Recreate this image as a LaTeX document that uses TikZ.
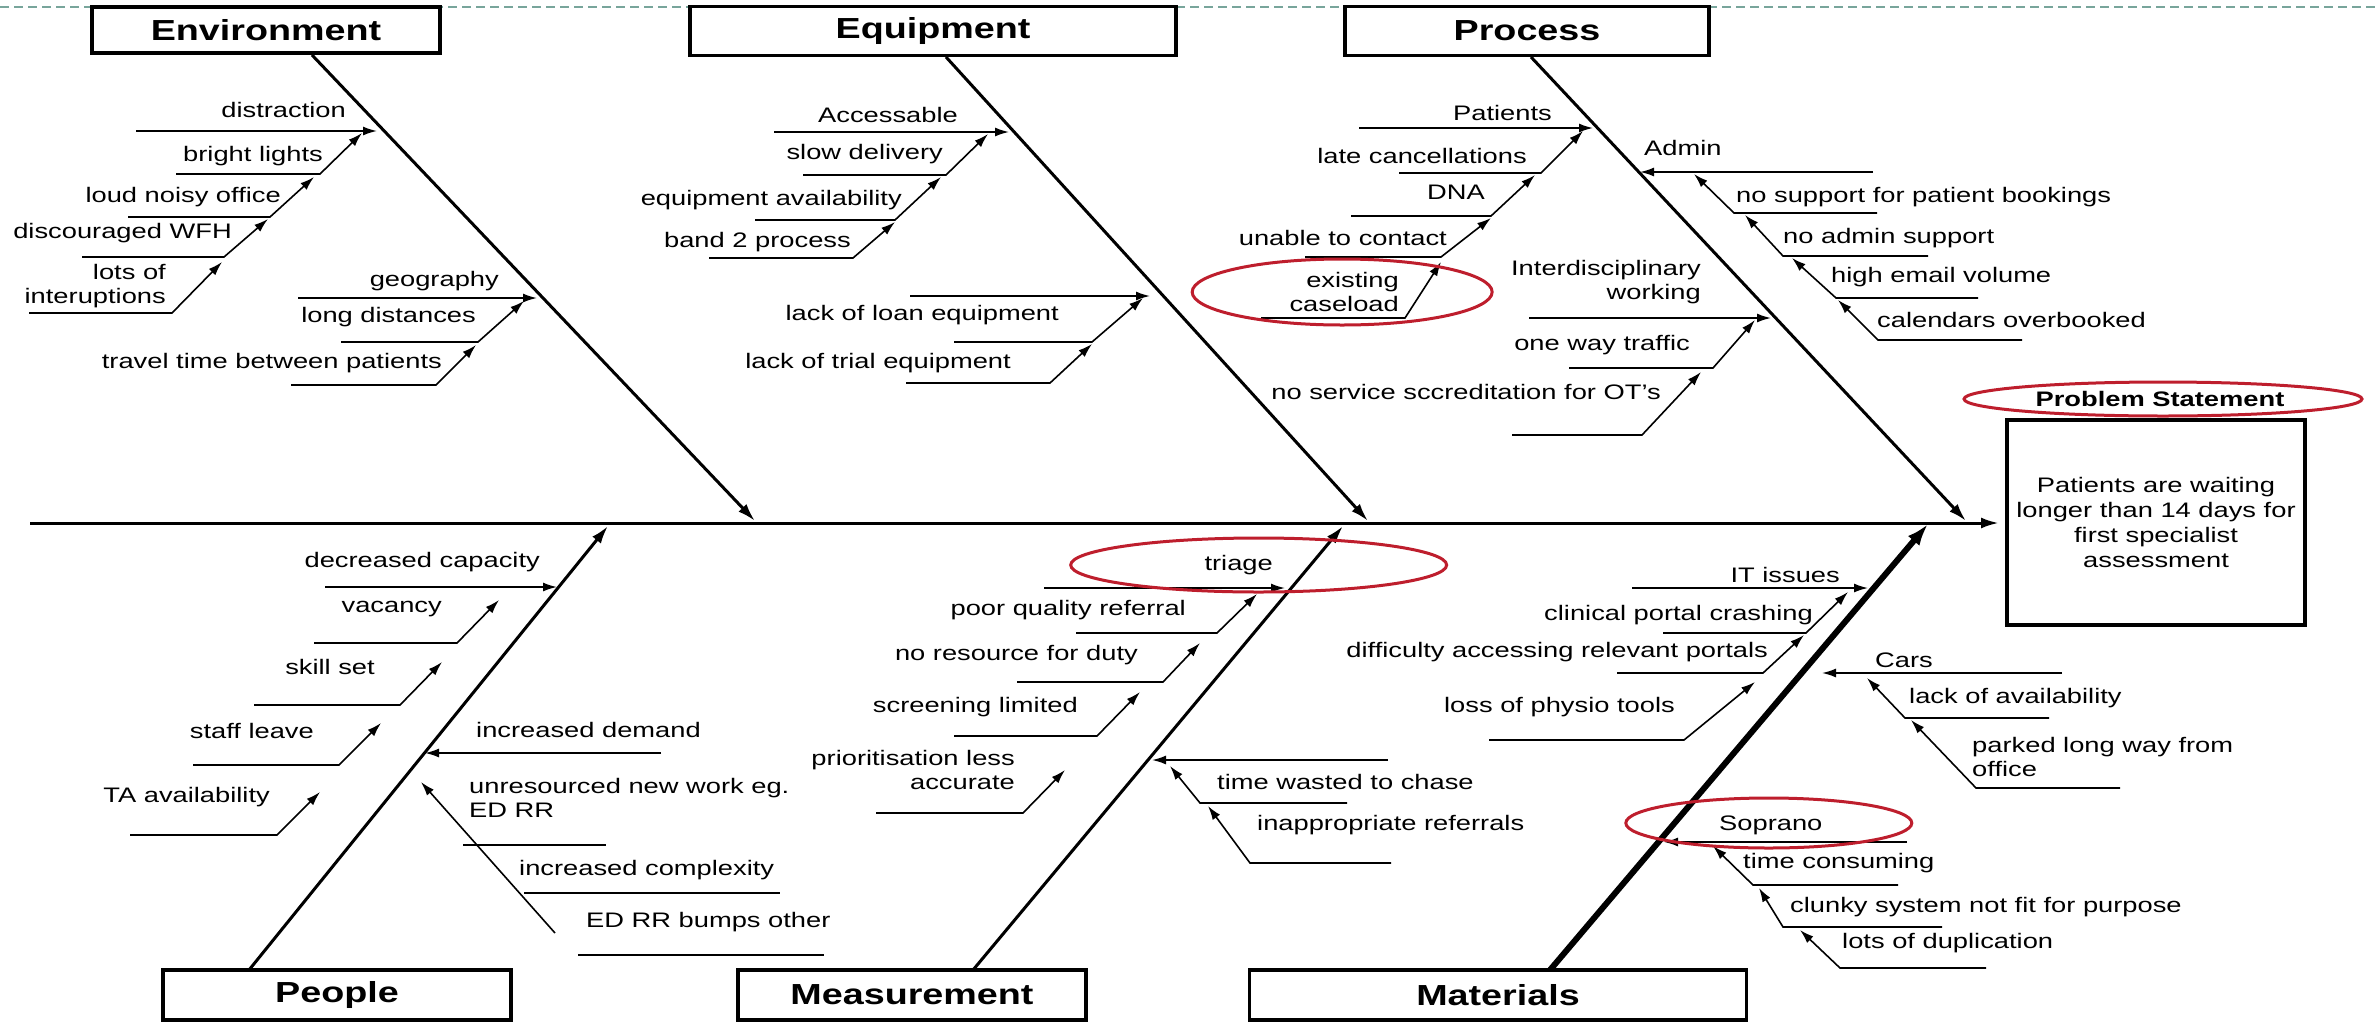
\documentclass[tikz,border=0pt]{standalone}
\usepackage{fontspec}
\setmainfont{Liberation Sans}[FakeStretch=1.3]
\usetikzlibrary{arrows.meta}

\definecolor{ringred}{RGB}{190,30,45}
\definecolor{dashteal}{RGB}{120,165,155}

\tikzset{
  bone/.style={line width=3pt, -{Latex[length=18pt,width=11pt]}},
  twig/.style={line width=1.6pt, -{Latex[length=14pt,width=9pt]}},
  catbox/.style={draw, line width=3.5pt, fill=white, inner sep=0pt,
    font=\fontsize{29}{32}\selectfont\bfseries},
  lbl/.style={inner sep=0pt, font=\fontsize{21}{24}\selectfont},
  lblL/.style={lbl, anchor=east, align=right},
  lblR/.style={lbl, anchor=west, align=left},
  ring/.style={draw=ringred, line width=3pt},
}

\begin{document}
\begin{tikzpicture}[x=1pt,y=-1pt]
\useasboundingbox (0,0) rectangle (2377,1023);
\draw[dashteal, line width=1.5pt, dash pattern=on 9pt off 5pt] (0,7) -- (2377,7);

% category boxes
\node[catbox, minimum width=348pt, minimum height=46pt] (env) at (266,30) {Environment};
\node[catbox, minimum width=486pt, minimum height=49pt] (equip) at (933,31) {Equipment};
\node[catbox, minimum width=364pt, minimum height=49pt] (proc) at (1527,31) {Process};
\node[catbox, minimum width=348pt, minimum height=50pt] (people) at (337,995) {People};
\node[catbox, minimum width=348pt, minimum height=50pt] (meas) at (912,995) {Measurement};
\node[catbox, minimum width=497pt, minimum height=50pt] (mat) at (1498,995) {Materials};

% problem statement
\node[draw, line width=4pt, minimum width=298pt, minimum height=205pt, align=center,
  lbl, font=\fontsize{21}{25}\selectfont] (prob) at (2156,522)
  {Patients are waiting\\longer than 14 days for\\first specialist\\assessment};
\node[lbl, font=\fontsize{21}{24}\selectfont\bfseries] (pstate) at (2160,399) {Problem Statement};
\draw[ring] ([xshift=3pt]pstate.center) ellipse [x radius=199pt, y radius=17pt];

% spine and bones
\coordinate (tail) at (30,523);
\coordinate (head) at (1999,523);
\coordinate (envroot) at (312,55);   \coordinate (envtip) at (755,521);
\coordinate (eqroot) at (946,57);    \coordinate (eqtip) at (1368,521);
\coordinate (procroot) at (1531,57); \coordinate (proctip) at (1966,521);
\coordinate (pplroot) at (249,970);  \coordinate (ppltip) at (608,526);
\coordinate (measroot) at (973,970); \coordinate (meastip) at (1343,526);
\coordinate (matroot) at (1550,970); \coordinate (mattip) at (1928,524);

\draw[bone] (tail) -- (head);
\draw[bone] (envroot) -- (envtip);
\draw[bone] (eqroot) -- (eqtip);
\draw[bone] (procroot) -- (proctip);
\draw[bone] (pplroot) -- (ppltip);
\draw[bone] (measroot) -- (meastip);
\draw[bone, line width=6pt, -{Latex[length=22pt,width=15pt]}] (matroot) -- (mattip);

% causes on the left of their bone
\foreach \n/\xa/\xb/\y/\xt/\yt/\lx/\ly/\txt in {
  distr/136/360/131/377/131/346/110/distraction,
  bright/176/320/174/362/133/323/156/bright lights,
  loud/128/270/217/314/177/281/197/loud noisy office,
  wfh/82/224/257/268/219/232/233/discouraged WFH,
  interupt/29/172/313/222/262/166/286/{lots of\\interuptions},
  geog/298/520/298/537/298/499/281/geography,
  longd/341/478/342/524/301/476/317/long distances,
  travel/291/436/385/476/345/442/363/travel time between patients,
  access/774/990/132/1009/132/958/115/Accessable,
  slowd/803/946/175/988/134/943/154/slow delivery,
  avail/755/895/220/941/177/902/200/equipment availability,
  band/709/853/258/895/222/851/242/band 2 process,
  loan/954/1092/342/1143/298/1059/315/lack of loan equipment,
  trial/906/1050/383/1092/344/1011/363/lack of trial equipment,
  pats/1359/1575/128/1593/128/1552/113/Patients,
  late/1399/1541/173/1583/131/1527/156/late cancellations,
  dna/1351/1491/216/1535/175/1485/192/DNA,
  contact/1305/1441/257/1491/218/1447/238/unable to contact,
  caseload/1261/1405/318/1441/262/1399/292/{existing\\caseload},
  interdis/1529/1750/318/1771/318/1701/282/{Interdisciplinary\\working},
  oneway/1569/1713/368/1755/320/1690/345/one way traffic,
  nosvc/1512/1642/435/1701/372/1661/392/no service sccreditation for OT's,
  decr/325/540/587/557/587/540/562/decreased capacity,
  vac/314/457/643/499/600/442/609/vacancy,
  skill/254/400/705/442/662/375/667/skill set,
  leave/193/339/765/381/723/314/731/staff leave,
  ta/130/277/835/320/792/270/797/TA availability,
  triage/1044/1265/588/1285/588/1273/565/triage,
  poorq/1076/1217/633/1257/594/1186/610/poor quality referral,
  duty/1017/1163/682/1200/643/1138/655/no resource for duty,
  screen/954/1097/736/1140/692/1078/707/screening limited,
  prior/876/1023/813/1065/770/1015/770/{prioritisation less\\accurate},
  itiss/1632/1850/588/1868/588/1840/575/IT issues,
  portal/1663/1806/633/1848/592/1813/615/clinical portal crashing,
  relev/1617/1763/673/1804/635/1768/652/difficulty accessing relevant portals,
  physio/1489/1684/740/1755/682/1675/707/loss of physio tools}{
  \path (\xa,\y) coordinate (\n-a) (\xb,\y) coordinate (\n-b) (\xt,\yt) coordinate (\n-t);
  \draw[twig] (\n-a) -- (\n-b) -- (\n-t);
  \node[lblL] (\n) at (\lx,\ly) {\txt};
}

% causes on the right of their bone
\foreach \n/\xa/\xb/\y/\xt/\yt/\lx/\ly/\txt in {
  admin/1873/1660/172/1640/172/1644/148/Admin,
  nosup/1877/1734/213/1694/174/1736/197/no support for patient bookings,
  noadm/1928/1783/256/1745/215/1783/238/no admin support,
  email/1978/1836/298/1792/258/1831/277/high email volume,
  calend/2022/1878/340/1838/300/1877/320/calendars overbooked,
  demand/661/445/753/425/753/476/730/increased demand,
  chase/1347/1200/803/1170/766/1217/782/time wasted to chase,
  inappr/1391/1250/863/1208/806/1257/825/inappropriate referrals,
  cars/2062/1840/673/1822/673/1875/660/Cars,
  lackav/2049/1905/718/1867/678/1909/698/lack of availability,
  parked/2120/1976/788/1911/720/1972/757/{parked long way from\\office},
  soprano/1907/1680/842/1664/842/1719/825/Soprano,
  timec/1898/1753/885/1713/846/1743/863/time consuming,
  clunky/1942/1783/927/1759/888/1790/907/clunky system not fit for purpose,
  dupl/1986/1840/968/1800/930/1842/943/lots of duplication}{
  \path (\xa,\y) coordinate (\n-a) (\xb,\y) coordinate (\n-b) (\xt,\yt) coordinate (\n-t);
  \draw[twig] (\n-a) -- (\n-b) -- (\n-t);
  \node[lblR] (\n) at (\lx,\ly) {\txt};
}

% unlabelled top lines
\path (910,296) coordinate (eqlow-a) (1150,296) coordinate (eqlow-t);
\draw[twig] (eqlow-a) -- (eqlow-t);
\path (1388,760) coordinate (measr-a) (1152,760) coordinate (measr-t);
\draw[twig] (measr-a) -- (measr-t);

% people, right side
\foreach \n/\xa/\xb/\y/\lx/\ly/\txt in {
  unres/463/606/845/469/798/{unresourced new work eg.\\ED RR},
  complex/524/780/893/519/870/increased complexity,
  bumps/578/824/955/586/922/ED RR bumps other}{
  \path (\xa,\y) coordinate (\n-a) (\xb,\y) coordinate (\n-b);
  \draw[line width=1.6pt] (\n-a) -- (\n-b);
  \node[lblR] (\n) at (\lx,\ly) {\txt};
}
\path (555,933) coordinate (pdiag-a) (421,782) coordinate (pdiag-t);
\draw[twig] (pdiag-a) -- (pdiag-t);

% highlighted causes
\draw[ring] ([xshift=-2pt]caseload.center) ellipse [x radius=150pt, y radius=33pt];
\draw[ring] ([xshift=20pt]triage.center) ellipse [x radius=188pt, y radius=27pt];
\draw[ring] ([xshift=-2pt,yshift=2pt]soprano.center) ellipse [x radius=143pt, y radius=25pt];
\end{tikzpicture}
\end{document}
